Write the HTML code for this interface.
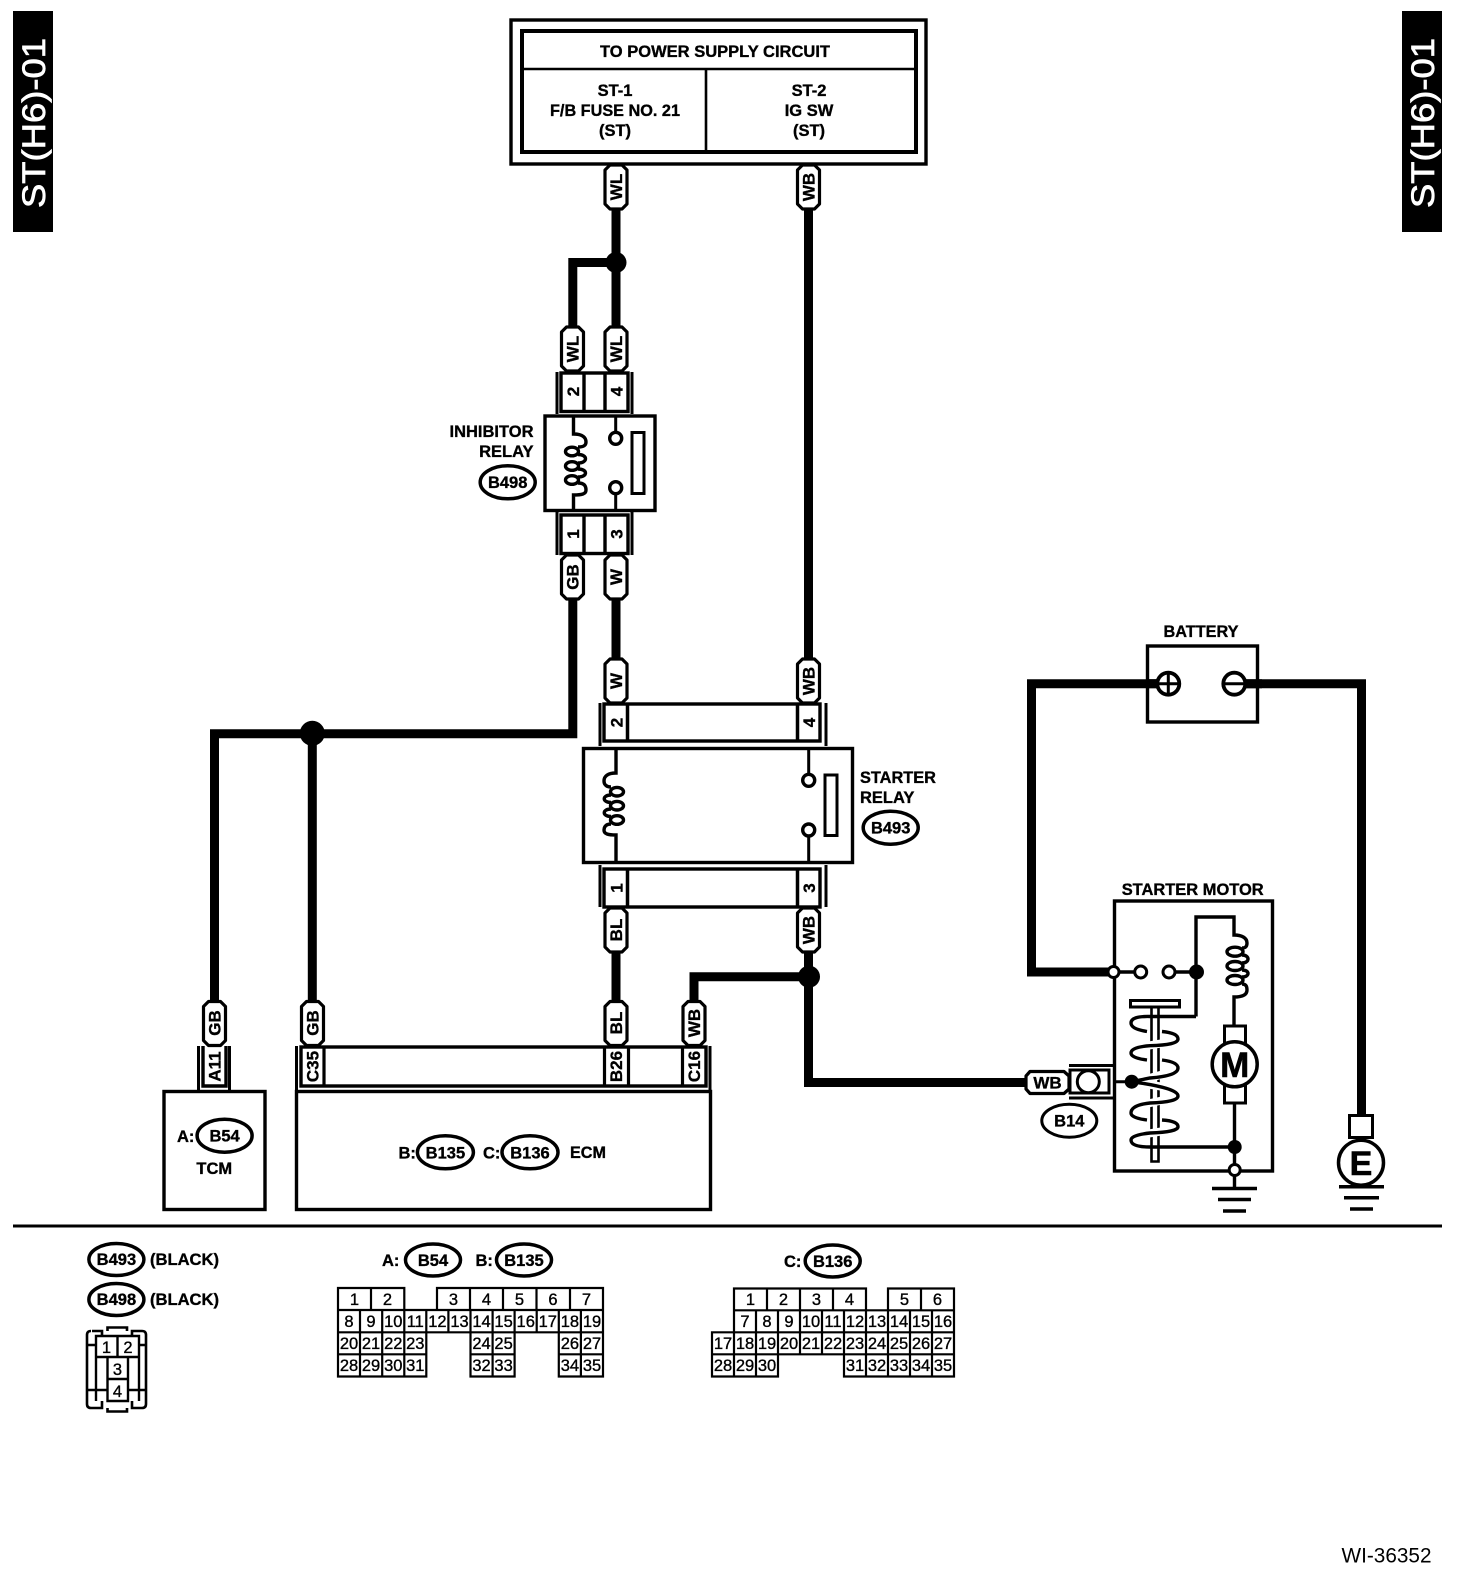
<!DOCTYPE html>
<html><head><meta charset="utf-8"><style>
html,body{margin:0;padding:0;background:#fff}
svg{display:block}
text{font-family:"Liberation Sans",sans-serif;fill:#000}
.b{font-weight:bold;font-size:16.5px;stroke:#000;stroke-width:.35}
.m{text-anchor:middle}
.r{text-anchor:end}
.w{font-weight:bold;font-size:17px;text-anchor:middle;stroke:#000;stroke-width:.35}
.n{font-size:16.5px;text-anchor:middle;stroke:#000;stroke-width:.35}
.k{fill:none;stroke:#000}
.s3{stroke-width:3}
.s9{stroke-width:9;stroke-linejoin:miter}
.c{fill:none;stroke:#000;stroke-width:3.4}
.t{font-size:32px;fill:#fff;stroke:#fff;stroke-width:.7}
</style></head><body>
<svg xmlns="http://www.w3.org/2000/svg" width="1472" height="1596" viewBox="0 0 1472 1596">
<defs>
<polygon id="p" points="-6,0 6,0 11,5 11,39 6,44 -6,44 -11,39 -11,5" fill="#fff" stroke="#000" stroke-width="3.2" stroke-linejoin="round"/>
</defs>
<rect width="1472" height="1596" fill="#fff"/>

<!-- side tabs -->
<rect x="13" y="11" width="40" height="221" fill="#000"/>
<rect x="1402" y="11" width="40" height="221" fill="#000"/>
<text transform="translate(45,208) rotate(-90)" class="t" textLength="170" lengthAdjust="spacingAndGlyphs">ST(H6)-01</text>
<text transform="translate(1434,208) rotate(-90)" class="t" textLength="170" lengthAdjust="spacingAndGlyphs">ST(H6)-01</text>

<!-- wires -->
<g class="k s9">
<path d="M616 209V327"/>
<path d="M572.8 327V262.5H616"/>
<path d="M808.5 209V659"/>
<path d="M616 598V659"/>
<path d="M572.8 598V733.7H214.5V1002"/>
<path d="M312.3 733.7V1002"/>
<path d="M616 952V1002"/>
<path d="M808.5 952V1082.5H1030"/>
<path d="M808.5 976.7H694V1002"/>
<path d="M1113 972H1031.5V683.7H1160"/>
<path d="M1240 683.7H1361.5V1116"/>
</g>
<circle cx="616" cy="262.5" r="10.5"/>
<circle cx="312.3" cy="733.3" r="12.5"/>
<circle cx="809" cy="976.7" r="11"/>

<!-- power supply box -->
<rect x="511" y="20" width="415" height="144" class="k" stroke-width="3.4"/>
<rect x="522" y="31" width="394" height="121" class="k" stroke-width="4"/>
<path d="M522 69H916M706 69V152" class="k" stroke-width="2.6"/>
<text x="715" y="57" class="b m" textLength="230" lengthAdjust="spacingAndGlyphs">TO POWER SUPPLY CIRCUIT</text>
<text x="615" y="96" class="b m">ST-1</text>
<text x="615" y="116" class="b m" textLength="130" lengthAdjust="spacingAndGlyphs">F/B FUSE NO. 21</text>
<text x="615" y="136" class="b m">(ST)</text>
<text x="809" y="96" class="b m">ST-2</text>
<text x="809" y="116" class="b m">IG SW</text>
<text x="809" y="136" class="b m">(ST)</text>

<!-- pills top -->
<g>
<use href="#p" x="616" y="165"/><use href="#p" x="808.5" y="165"/>
<use href="#p" x="572.5" y="327"/><use href="#p" x="616" y="327"/>
<use href="#p" x="572.5" y="555"/><use href="#p" x="616" y="555"/>
<use href="#p" x="616" y="659"/><use href="#p" x="808.5" y="659"/>
<use href="#p" x="616" y="908"/><use href="#p" x="808.5" y="908"/>
<use href="#p" x="214.5" y="1001.5"/><use href="#p" x="312.5" y="1001.5"/>
<use href="#p" x="616" y="1001.5"/><use href="#p" x="694" y="1001.5"/>
</g>
<g class="w">
<text transform="translate(622,187) rotate(-90)" class="w">WL</text>
<text transform="translate(814.5,187) rotate(-90)" class="w">WB</text>
<text transform="translate(578.5,349) rotate(-90)" class="w">WL</text>
<text transform="translate(622,349) rotate(-90)" class="w">WL</text>
<text transform="translate(578.5,577) rotate(-90)" class="w">GB</text>
<text transform="translate(622,577) rotate(-90)" class="w">W</text>
<text transform="translate(622,681) rotate(-90)" class="w">W</text>
<text transform="translate(814.5,681) rotate(-90)" class="w">WB</text>
<text transform="translate(622,930) rotate(-90)" class="w">BL</text>
<text transform="translate(814.5,930) rotate(-90)" class="w">WB</text>
<text transform="translate(220.5,1023) rotate(-90)" class="w">GB</text>
<text transform="translate(318.5,1023) rotate(-90)" class="w">GB</text>
<text transform="translate(622,1023) rotate(-90)" class="w">BL</text>
<text transform="translate(700,1023) rotate(-90)" class="w">WB</text>
</g>

<!-- inhibitor relay -->
<path d="M557 372V414M632 372V414M557 512V555M632 512V555" class="k s3"/>
<rect x="561" y="373" width="67" height="38.5" class="k" stroke-width="3.4"/>
<path d="M584 373V411M605 373V411" class="k" stroke-width="3.4"/>
<rect x="561" y="515" width="67" height="38.5" class="k" stroke-width="3.4"/>
<path d="M584 515V553M605 515V553" class="k" stroke-width="3.4"/>
<text transform="translate(579,391.5) rotate(-90)" class="w">2</text>
<text transform="translate(622.5,391.5) rotate(-90)" class="w">4</text>
<text transform="translate(579,534) rotate(-90)" class="w">1</text>
<text transform="translate(622.5,534) rotate(-90)" class="w">3</text>
<rect x="545" y="416" width="110" height="94.5" class="k" stroke-width="3.4" fill="#fff"/>
<path d="M573.5 416V434C583 434 586 438 586 442C586 446 583 447 578 447M578 454.5C588 454.5 588 463 578 463M578 469C588 469 588 477 578 477M578 483C586 483 586 488 586 490C586 494 582 495 573.5 495V510" class="c"/>
<ellipse cx="572" cy="451.5" rx="6.5" ry="4.3" class="c"/>
<ellipse cx="572" cy="466" rx="6.5" ry="4.3" class="c"/>
<ellipse cx="572" cy="480" rx="6.5" ry="4.3" class="c"/>
<path d="M615.7 416V432M615.7 494V510" class="k s3"/>
<circle cx="615.7" cy="438.3" r="6" class="c"/>
<circle cx="615.7" cy="487.7" r="6" class="c"/>
<rect x="632" y="432.5" width="12" height="61" class="k s3"/>
<text x="533.5" y="437" class="b r" textLength="84" lengthAdjust="spacingAndGlyphs">INHIBITOR</text>
<text x="533.5" y="457" class="b r">RELAY</text>
<ellipse cx="507.7" cy="482.3" rx="27.5" ry="16.5" class="k" stroke-width="3.5"/>
<text x="507.7" y="488" class="b m">B498</text>

<!-- starter relay -->
<path d="M600 703V746M826 703V746M600 865V907M826 865V907" class="k s3"/>
<rect x="604" y="704" width="216" height="37" class="k" stroke-width="3.4"/>
<path d="M627.5 704V741M797.5 704V741" class="k" stroke-width="3.5"/>
<rect x="604" y="869" width="216" height="38" class="k" stroke-width="3.4"/>
<path d="M627.5 869V907M797.5 869V907" class="k" stroke-width="3.5"/>
<text transform="translate(622.5,722.5) rotate(-90)" class="w">2</text>
<text transform="translate(815,722.5) rotate(-90)" class="w">4</text>
<text transform="translate(622.5,888) rotate(-90)" class="w">1</text>
<text transform="translate(815,888) rotate(-90)" class="w">3</text>
<rect x="583.5" y="748.5" width="269" height="114" class="k" stroke-width="3.4" fill="#fff"/>
<path d="M616 748V773C608 773 604 776 604 781C604 785 607 787 611 787M611 795C602 795 602 802.5 611 802.5M611 809C602 809 602 816.5 611 816.5M611 824C604 824 604 829 604 830C604 834 608 835 616 835V862" class="c"/>
<ellipse cx="617" cy="791.7" rx="6.5" ry="4.3" class="c"/>
<ellipse cx="617" cy="805.7" rx="6.5" ry="4.3" class="c"/>
<ellipse cx="617" cy="820" rx="6.5" ry="4.3" class="c"/>
<path d="M808.7 748V774M808.7 836V862" class="k s3"/>
<circle cx="808.7" cy="780.3" r="6" class="c"/>
<circle cx="808.7" cy="830" r="6" class="c"/>
<rect x="825" y="775" width="12" height="60.5" class="k s3"/>
<text x="860" y="783" class="b" textLength="76" lengthAdjust="spacingAndGlyphs">STARTER</text>
<text x="860" y="803" class="b">RELAY</text>
<ellipse cx="890.7" cy="827.7" rx="27.5" ry="16.5" class="k" stroke-width="3.5"/>
<text x="890.7" y="833.5" class="b m">B493</text>

<!-- battery -->
<text x="1201" y="637" class="b m" textLength="75" lengthAdjust="spacingAndGlyphs">BATTERY</text>
<rect x="1147.5" y="646" width="110" height="76" class="k" stroke-width="3.4" fill="none"/>
<circle cx="1168.3" cy="683.7" r="11" fill="#fff" stroke="#000" stroke-width="3.8"/>
<circle cx="1234.3" cy="683.7" r="11" fill="#fff" stroke="#000" stroke-width="3.8"/>
<path d="M1158 683.7H1178.5M1168.3 673V694M1224 683.7H1244.5" class="k" stroke-width="3"/>
<path d="M1245 683.7H1262" class="k s9"/>
<path d="M1146 683.7H1157" class="k s9"/>

<!-- starter motor -->
<text x="1192.7" y="895" class="b m" textLength="142" lengthAdjust="spacingAndGlyphs">STARTER MOTOR</text>
<rect x="1114.5" y="901" width="158" height="270" class="k" stroke-width="3.4"/>
<path d="M1113 972H1140M1169 972H1196M1196 1016.5V917H1234V935C1242 935 1247 938 1247 943C1247 947 1245 948 1242 948M1242 955C1250 955 1250 963 1242 963M1242 970C1250 970 1250 977 1242 977M1242 984C1247 984 1247 988 1247 990C1247 995 1242 997 1234 997V1025M1234.5 1103V1170M1234.5 1170V1188" class="c"/>
<ellipse cx="1235" cy="951.7" rx="8" ry="4.5" class="c"/>
<ellipse cx="1235" cy="966" rx="8" ry="4.5" class="c"/>
<ellipse cx="1235" cy="980" rx="8" ry="4.5" class="c"/>
<circle cx="1113.5" cy="972" r="5.5" fill="#fff" stroke="#000" stroke-width="3"/>
<circle cx="1140.7" cy="972" r="6" fill="#fff" stroke="#000" stroke-width="3"/>
<circle cx="1169" cy="972" r="6" fill="#fff" stroke="#000" stroke-width="3"/>
<circle cx="1196.5" cy="972" r="7.5"/>
<rect x="1130.5" y="1000.5" width="49" height="6.5" class="k s3"/>
<path d="M1151.5 1006V1161.5H1158.5V1006" class="k" stroke-width="2.6"/>
<path d="M1164 1043L1146 1046M1164 1074L1146 1079M1132 1082L1164 1087M1164 1100L1146 1104M1164 1131L1146 1134" fill="none" stroke="#fff" stroke-width="8"/>
<path d="M1196 1016.5H1150Q1131 1016 1131 1023Q1131 1029 1147 1031.5M1162 1031.5Q1178 1033 1178 1039Q1178 1045 1150 1045.7Q1131 1047 1131 1053Q1131 1058 1147 1060M1162 1060Q1178 1062 1178 1068Q1178 1076 1150 1078L1131.5 1081.7Q1178 1088 1178 1096Q1178 1102 1150 1103Q1131 1105 1131 1113Q1131 1118 1147 1120M1162 1120Q1178 1121 1178 1126.7Q1178 1132 1150 1133Q1131 1135 1131 1140Q1131 1147 1150 1147H1234" class="c"/>
<circle cx="1131.7" cy="1081.7" r="7"/>
<path d="M1113 1081.7H1130" class="k s3"/>
<rect x="1224.5" y="1026" width="21" height="20" class="k s3"/>
<rect x="1224.5" y="1084" width="21" height="19" class="k s3"/>
<circle cx="1234.7" cy="1064.3" r="22.5" fill="#fff" stroke="#000" stroke-width="3.5"/>
<text x="1234.7" y="1077" class="m" style="font-weight:bold;font-size:35px;stroke:#000;stroke-width:.6">M</text>
<circle cx="1234.7" cy="1147" r="7"/>
<circle cx="1234.7" cy="1170" r="5.5" fill="#fff" stroke="#000" stroke-width="3"/>
<path d="M1212 1188.5H1257M1218 1199.5H1251M1223 1211H1246" class="k" stroke-width="3.5"/>

<!-- B14 -->
<polygon points="1030,1071.5 1064,1071.5 1069,1076 1069,1089 1064,1093.5 1030,1093.5 1026,1089 1026,1076" fill="#fff" stroke="#000" stroke-width="3.2" stroke-linejoin="round"/>
<text x="1047.5" y="1088.5" class="w">WB</text>
<path d="M1069 1065.5H1113M1069 1098H1113" class="k s3"/>
<rect x="1070" y="1070" width="39" height="23" class="k s3"/>
<circle cx="1088.3" cy="1081.7" r="11" fill="#fff" stroke="#000" stroke-width="3"/>
<ellipse cx="1069.3" cy="1120.7" rx="27.5" ry="16.5" class="k" stroke-width="3"/>
<text x="1069.3" y="1126.5" class="b m">B14</text>

<!-- ground E -->
<rect x="1349.5" y="1115.5" width="23" height="22" class="k s3" fill="#fff"/>
<circle cx="1361" cy="1162.7" r="22.5" fill="#fff" stroke="#000" stroke-width="3.5"/>
<text x="1361" y="1175" class="m" style="font-weight:bold;font-size:34px;stroke:#000;stroke-width:.6">E</text>
<path d="M1339 1186.7H1384M1344 1197.7H1379M1350 1209H1373" class="k" stroke-width="3.5"/>

<!-- TCM -->
<path d="M198.5 1046V1090M229.5 1046V1090" class="k s3"/>
<path d="M203 1046V1086H226V1046" class="k" stroke-width="3.4"/>
<text transform="translate(220.5,1066.5) rotate(-90)" class="w">A11</text>
<rect x="164" y="1091.5" width="101" height="118" class="k" stroke-width="3.4" fill="#fff"/>
<text x="177" y="1142" class="b">A:</text>
<ellipse cx="224.6" cy="1135.7" rx="27.5" ry="16.5" class="k" stroke-width="3.5"/>
<text x="224.6" y="1141.5" class="b m">B54</text>
<text x="214.3" y="1174" class="b m">TCM</text>

<!-- ECM -->
<path d="M296.5 1046V1090M710 1046V1090" class="k s3"/>
<rect x="301" y="1047" width="405" height="39" class="k" stroke-width="3.4"/>
<path d="M324 1047V1086M604.5 1047V1086M628.5 1047V1086M682.5 1047V1086" class="k" stroke-width="3.2"/>
<text transform="translate(318.5,1066.5) rotate(-90)" class="w">C35</text>
<text transform="translate(622,1066.5) rotate(-90)" class="w">B26</text>
<text transform="translate(700,1066.5) rotate(-90)" class="w">C16</text>
<rect x="296.5" y="1091.5" width="414" height="118" class="k" stroke-width="3.4" fill="#fff"/>
<text x="398.5" y="1158.5" class="b">B:</text>
<ellipse cx="445.4" cy="1152.3" rx="28" ry="16.5" class="k" stroke-width="3.5"/>
<text x="445.4" y="1158.5" class="b m">B135</text>
<text x="483" y="1158.5" class="b">C:</text>
<ellipse cx="530" cy="1152.3" rx="28" ry="16.5" class="k" stroke-width="3.5"/>
<text x="530" y="1158.5" class="b m">B136</text>
<text x="570" y="1158" class="b" textLength="36" lengthAdjust="spacingAndGlyphs">ECM</text>

<path d="M13 1226H1442" class="k s3"/>

<!-- legend -->
<ellipse cx="116.4" cy="1259.5" rx="27.5" ry="16" class="k" stroke-width="3.5"/>
<text x="116.4" y="1265" class="b m">B493</text>
<text x="150" y="1265" class="b" textLength="69" lengthAdjust="spacingAndGlyphs">(BLACK)</text>
<ellipse cx="116.4" cy="1299.5" rx="27.5" ry="16" class="k" stroke-width="3.5"/>
<text x="116.4" y="1305" class="b m">B498</text>
<text x="150" y="1305" class="b" textLength="69" lengthAdjust="spacingAndGlyphs">(BLACK)</text>

<path d="M107.5 1331V1327.5H127V1331M92 1331H102V1335M132 1335V1331H142Q146 1331 146 1335V1404Q146 1408 142 1408H132V1401M102 1401V1408H91Q87 1408 87 1404V1335Q87 1331 91 1331M107.5 1408V1411.5H127V1408M87 1345H96M139 1345H146M87 1390H107M128 1390H146" class="k" stroke-width="2.6"/>
<path d="M96 1336H139V1357H96ZM117.5 1336V1357M107.5 1357V1401H128V1357M107.5 1379H128M96 1357V1401M139 1357V1401" class="k" stroke-width="2.4"/>
<text x="106.5" y="1353" class="n">1</text>
<text x="128" y="1353" class="n">2</text>
<text x="117.5" y="1375" class="n">3</text>
<text x="117.5" y="1397" class="n">4</text>

<text x="382" y="1266" class="b">A:</text>
<ellipse cx="433" cy="1260" rx="27.5" ry="16" class="k" stroke-width="3.5"/>
<text x="433" y="1266" class="b m">B54</text>
<text x="475.5" y="1266" class="b">B:</text>
<ellipse cx="524" cy="1260" rx="27.5" ry="16" class="k" stroke-width="3.5"/>
<text x="524" y="1266" class="b m">B135</text>
<text x="784" y="1267" class="b">C:</text>
<ellipse cx="832.7" cy="1261" rx="27.5" ry="16" class="k" stroke-width="3.5"/>
<text x="832.7" y="1267" class="b m">B136</text>

<!-- table A/B -->
<path d="M338 1288H404.3V1310H338ZM371 1288V1310M437 1288H603V1310H437ZM470 1288V1310M503 1288V1310M536.5 1288V1310M570 1288V1310M338 1310H603V1332.3H338ZM360 1310V1332.3M382.2 1310V1332.3M404.3 1310V1332.3M426.3 1310V1332.3M448.4 1310V1332.3M470.5 1310V1332.3M492.6 1310V1332.3M514.6 1310V1332.3M536.7 1310V1332.3M558.8 1310V1332.3M580.9 1310V1332.3M338 1332.3V1376.5H426.3V1332.3M338 1354.3H426.3M360 1332.3V1376.5M382.2 1332.3V1376.5M404.3 1332.3V1376.5M470.5 1332.3V1376.5H514.6V1332.3M470.5 1354.3H514.6M492.6 1332.3V1376.5M558.8 1332.3V1376.5H603V1332.3M558.8 1354.3H603M580.9 1332.3V1376.5" class="k" stroke-width="2.2"/>
<g class="n">
<text x="354.5" y="1305" class="n">1</text><text x="387.5" y="1305" class="n">2</text><text x="453.5" y="1305" class="n">3</text><text x="486.5" y="1305" class="n">4</text><text x="519.5" y="1305" class="n">5</text><text x="553" y="1305" class="n">6</text><text x="586.5" y="1305" class="n">7</text>
<text x="349" y="1327" class="n">8</text><text x="371" y="1327" class="n">9</text><text x="393.3" y="1327" class="n">10</text><text x="415.3" y="1327" class="n">11</text><text x="437.4" y="1327" class="n">12</text><text x="459.5" y="1327" class="n">13</text><text x="481.5" y="1327" class="n">14</text><text x="503.6" y="1327" class="n">15</text><text x="525.7" y="1327" class="n">16</text><text x="547.8" y="1327" class="n">17</text><text x="569.9" y="1327" class="n">18</text><text x="592" y="1327" class="n">19</text>
<text x="349" y="1349" class="n">20</text><text x="371" y="1349" class="n">21</text><text x="393.3" y="1349" class="n">22</text><text x="415.3" y="1349" class="n">23</text><text x="481.5" y="1349" class="n">24</text><text x="503.6" y="1349" class="n">25</text><text x="569.9" y="1349" class="n">26</text><text x="592" y="1349" class="n">27</text>
<text x="349" y="1371" class="n">28</text><text x="371" y="1371" class="n">29</text><text x="393.3" y="1371" class="n">30</text><text x="415.3" y="1371" class="n">31</text><text x="481.5" y="1371" class="n">32</text><text x="503.6" y="1371" class="n">33</text><text x="569.9" y="1371" class="n">34</text><text x="592" y="1371" class="n">35</text>
</g>

<!-- table C -->
<path d="M734 1288.5H866V1310.3H734ZM767 1288.5V1310.3M800 1288.5V1310.3M833 1288.5V1310.3M888 1288.5H954V1310.3H888ZM921 1288.5V1310.3M734 1310.3H954V1332.3H734ZM756 1310.3V1332.3M778 1310.3V1332.3M800 1310.3V1332.3M822 1310.3V1332.3M844 1310.3V1332.3M866 1310.3V1332.3M888 1310.3V1332.3M910 1310.3V1332.3M932 1310.3V1332.3M712 1332.3H954V1354.3H712ZM734 1332.3V1354.3M756 1332.3V1354.3M778 1332.3V1354.3M800 1332.3V1354.3M822 1332.3V1354.3M844 1332.3V1354.3M866 1332.3V1354.3M888 1332.3V1354.3M910 1332.3V1354.3M932 1332.3V1354.3M712 1354.3V1376.5H778V1354.3M734 1354.3V1376.5M756 1354.3V1376.5M844 1354.3V1376.5H954V1354.3M866 1354.3V1376.5M888 1354.3V1376.5M910 1354.3V1376.5M932 1354.3V1376.5" class="k" stroke-width="2.2"/>
<text x="750.5" y="1305" class="n">1</text><text x="783.5" y="1305" class="n">2</text><text x="816.5" y="1305" class="n">3</text><text x="849.5" y="1305" class="n">4</text><text x="904.5" y="1305" class="n">5</text><text x="937.5" y="1305" class="n">6</text>
<text x="745" y="1327" class="n">7</text><text x="767" y="1327" class="n">8</text><text x="789" y="1327" class="n">9</text><text x="811" y="1327" class="n">10</text><text x="833" y="1327" class="n">11</text><text x="855" y="1327" class="n">12</text><text x="877" y="1327" class="n">13</text><text x="899" y="1327" class="n">14</text><text x="921" y="1327" class="n">15</text><text x="943" y="1327" class="n">16</text>
<text x="723" y="1349" class="n">17</text><text x="745" y="1349" class="n">18</text><text x="767" y="1349" class="n">19</text><text x="789" y="1349" class="n">20</text><text x="811" y="1349" class="n">21</text><text x="833" y="1349" class="n">22</text><text x="855" y="1349" class="n">23</text><text x="877" y="1349" class="n">24</text><text x="899" y="1349" class="n">25</text><text x="921" y="1349" class="n">26</text><text x="943" y="1349" class="n">27</text>
<text x="723" y="1371" class="n">28</text><text x="745" y="1371" class="n">29</text><text x="767" y="1371" class="n">30</text><text x="855" y="1371" class="n">31</text><text x="877" y="1371" class="n">32</text><text x="899" y="1371" class="n">33</text><text x="921" y="1371" class="n">34</text><text x="943" y="1371" class="n">35</text>

<text x="1341.5" y="1562.5" style="font-size:21px" textLength="90" lengthAdjust="spacingAndGlyphs">WI-36352</text>
</svg>
</body></html>
